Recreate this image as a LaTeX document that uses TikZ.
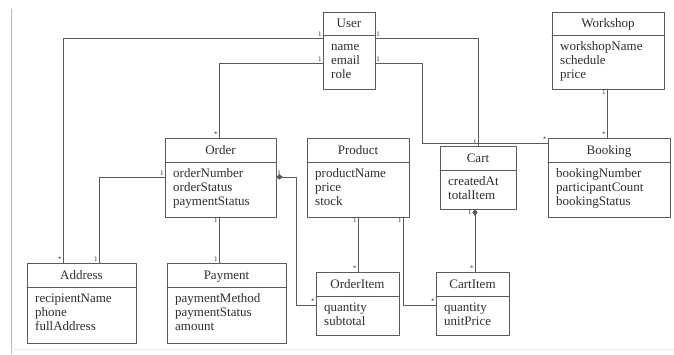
\documentclass[tikz,border=0pt]{standalone}
\usepackage{fontspec}
\setmainfont{Liberation Serif}
\usetikzlibrary{arrows.meta}
\definecolor{ink}{HTML}{5A5A5A}
\definecolor{txt}{HTML}{2E2E2E}

% one class box: name, left, top, right, bottom, divider, title, attributes
\newcommand{\umlclass}[8]{%
  \node[classbox, minimum width={(#4-#2)*1pt}, minimum height={(#5-#3)*1pt}]
    (#1) at ({(#2+#4)/2},{(#3+#5)/2}) {};
  \draw[ink, line width=0.8pt] (#2,#6) -- (#4,#6);
  \node[clsname] (#1-t) at ({(#2+#4)/2},{(#3+#6)/2+4}) {#7};
  \foreach \a [count=\i] in {#8}
    \node[clsattr] (#1-a\i) at (#2+8,{#6+15+14*(\i-1)}) {\a};
}

\begin{document}
\begin{tikzpicture}[x=1pt, y=-1pt, line cap=round, line join=round,
  classbox/.style={draw=ink, line width=0.8pt, inner sep=0pt, outer sep=0pt},
  clsname/.style={font=\fontsize{13}{14}\selectfont, text=txt, anchor=base, inner sep=0pt},
  clsattr/.style={font=\fontsize{13}{14}\selectfont, text=txt, anchor=base west, inner sep=0pt},
  assoc/.style={draw=ink, line width=0.7pt},
  comp/.style={assoc, arrows={Diamond[length=7pt,width=5pt]-}},
  mult/.style={font=\fontsize{7}{7}\selectfont, text=txt, inner sep=1pt}]

\useasboundingbox (0,0) rectangle (674,354);
\draw[gray!55, line width=0.8pt] (11,9) -- (11,354);
\draw[gray!15, line width=0.6pt] (11,349) -- (674,349);

% ================================================================ classes
\umlclass{User}{323}{12}{375}{89}{35}{User}{name,email,role}
\umlclass{Workshop}{552}{12}{664}{89}{35}{Workshop}{workshopName,schedule,price}
\umlclass{Order}{165}{138}{276}{217}{162}{Order}{orderNumber,orderStatus,paymentStatus}
\umlclass{Product}{307}{138}{409}{217}{162}{Product}{productName,price,stock}
\umlclass{Cart}{440}{146}{516}{209}{170}{Cart}{createdAt,totalItem}
\umlclass{Booking}{548}{138}{670}{217}{162}{Booking}{bookingNumber,participantCount,bookingStatus}
\umlclass{Address}{27}{263}{136}{343}{287}{Address}{recipientName,phone,fullAddress}
\umlclass{Payment}{167}{263}{286}{343}{287}{Payment}{paymentMethod,paymentStatus,amount}
\umlclass{OrderItem}{316}{272}{399}{335}{296}{OrderItem}{quantity,subtotal}
\umlclass{CartItem}{436}{272}{509}{335}{296}{CartItem}{quantity,unitPrice}

% ================================================================ associations
\draw[assoc] (User.west |- 0,38) node[mult, anchor=south east] (mUA1) {1}
  -| (Address.north -| 63,0) node[mult, anchor=south east] (mUA2) {*};
\draw[assoc] (User.west |- 0,63) node[mult, anchor=south east] (mUO1) {1}
  -| (Order.north -| 219,0) node[mult, anchor=south east] (mUO2) {*};
\draw[assoc] (User.east |- 0,38) node[mult, anchor=south west] (mUC1) {1}
  -| (Cart.north -| 478,0) node[mult, anchor=south east] (mUC2) {1};
\draw[assoc] (User.east |- 0,63) node[mult, anchor=south west] (mUB1) {1}
  -| (422,143) -- (Booking.west |- 0,143) node[mult, anchor=south east] (mUB2) {*};
\draw[assoc] (Workshop.south -| 607,0) node[mult, anchor=north east] (mWB1) {1}
  -- (Booking.north -| 607,0) node[mult, anchor=south east] (mWB2) {*};
\draw[assoc] (Order.west |- 0,177) node[mult, anchor=south east] (mOA1) {1}
  -| (Address.north -| 99,0) node[mult, anchor=south east] (mOA2) {1};
\draw[assoc] (Order.south -| 219,0) node[mult, anchor=north east] (mOP1) {1}
  -- (Payment.north -| 219,0) node[mult, anchor=south east] (mOP2) {1};
\draw[assoc] (Product.south -| 358,0) node[mult, anchor=north east] (mPO1) {1}
  -- (OrderItem.north -| 358,0) node[mult, anchor=south east] (mPO2) {*};
\draw[assoc] (Product.south -| 403,0) node[mult, anchor=north east] (mPC1) {1}
  |- (CartItem.west |- 0,305) node[mult, anchor=south east] (mPC2) {*};

% ================================================================ compositions
\draw[comp] (Order.east |- 0,177) node[mult, anchor=south west] (mOI1) {1}
  -| (296,305) -- (OrderItem.west |- 0,305) node[mult, anchor=south east] (mOI2) {*};
\draw[comp] (Cart.south -| 475,0) node[mult, anchor=north east, xshift=-2pt] (mCC1) {1}
  -- (CartItem.north -| 475,0) node[mult, anchor=south east] (mCC2) {*};

\end{tikzpicture}
\end{document}
